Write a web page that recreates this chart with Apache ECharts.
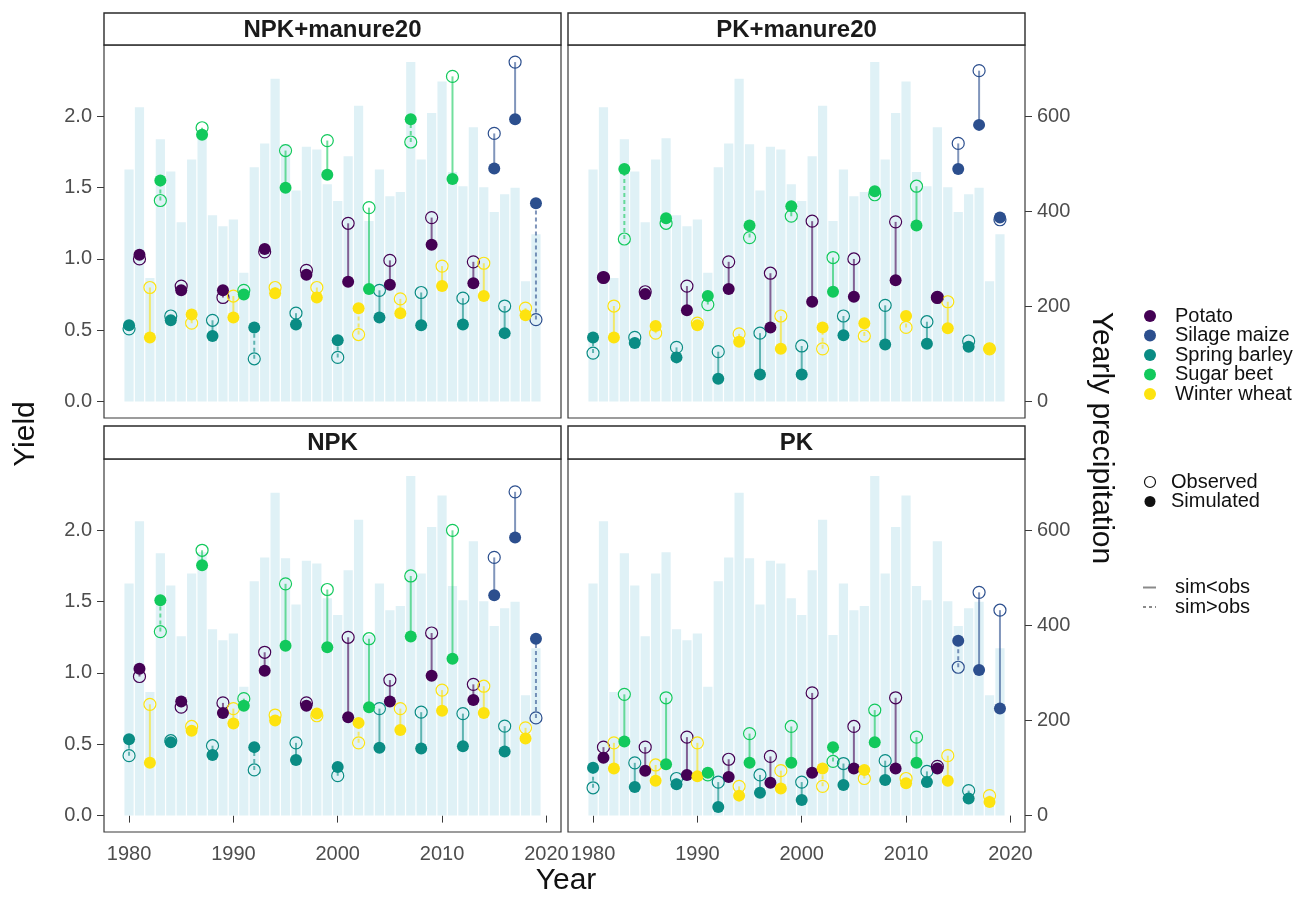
<!DOCTYPE html>
<html>
<head>
<meta charset="utf-8">
<script src="https://cdn.jsdelivr.net/npm/echarts@6/dist/echarts.min.js"></script>
<style>
html, body { margin: 0; padding: 0; background: #fff; }
#main { width: 1301px; height: 908px; }
</style>
</head>
<body>
<div id="main"></div>
<script>
// years, crop rotation and yearly precipitation (same for every panel)
var years = [1980, 1981, 1982, 1983, 1984, 1985, 1986, 1987, 1988, 1989,
  1990, 1991, 1992, 1993, 1994, 1995, 1996, 1997, 1998, 1999,
  2000, 2001, 2002, 2003, 2004, 2005, 2006, 2007, 2008, 2009,
  2010, 2011, 2012, 2013, 2014, 2015, 2016, 2017, 2018, 2019];
var crops = ['Spring barley', 'Potato', 'Winter wheat', 'Sugar beet',
  'Spring barley', 'Potato', 'Winter wheat', 'Sugar beet',
  'Spring barley', 'Potato', 'Winter wheat', 'Sugar beet',
  'Spring barley', 'Potato', 'Winter wheat', 'Sugar beet',
  'Spring barley', 'Potato', 'Winter wheat', 'Sugar beet',
  'Spring barley', 'Potato', 'Winter wheat', 'Sugar beet',
  'Spring barley', 'Potato', 'Winter wheat', 'Sugar beet',
  'Spring barley', 'Potato', 'Winter wheat', 'Sugar beet',
  'Spring barley', 'Potato', 'Winter wheat', 'Silage maize',
  'Spring barley', 'Silage maize', 'Winter wheat', 'Silage maize'];
var precip = [488, 619, 260, 552, 484, 377, 509, 554, 392, 369,
  383, 271, 493, 543, 679, 541, 444, 536, 530, 457,
  422, 516, 622, 380, 488, 432, 441, 714, 509, 607,
  673, 483, 453, 577, 451, 399, 436, 450, 253, 352];

// yields per treatment
var obsNpkManure = [0.51, 1.00, 0.80, 1.41, 0.60, 0.81, 0.55, 1.92, 0.57, 0.73,
  0.74, 0.78, 0.30, 1.05, 0.80, 1.76, 0.62, 0.92, 0.80, 1.83,
  0.31, 1.25, 0.47, 1.36, 0.78, 0.99, 0.72, 1.82, 0.765, 1.29,
  0.95, 2.28, 0.725, 0.98, 0.97, 1.88, 0.67, 2.38, 0.655, 0.575];
var simNpkManure = [0.535, 1.03, 0.45, 1.55, 0.57, 0.78, 0.61, 1.87, 0.46, 0.78,
  0.59, 0.75, 0.52, 1.07, 0.76, 1.50, 0.54, 0.89, 0.73, 1.59,
  0.43, 0.84, 0.655, 0.79, 0.59, 0.82, 0.62, 1.98, 0.535, 1.10,
  0.81, 1.56, 0.54, 0.83, 0.74, 1.635, 0.48, 1.98, 0.605, 1.39];
var obsPkManure = [0.34, 0.87, 0.67, 1.14, 0.45, 0.77, 0.48, 1.25, 0.38, 0.81,
  0.55, 0.68, 0.35, 0.98, 0.475, 1.15, 0.48, 0.90, 0.60, 1.30,
  0.39, 1.265, 0.37, 1.01, 0.60, 1.00, 0.46, 1.45, 0.675, 1.26,
  0.52, 1.51, 0.56, 0.73, 0.70, 1.81, 0.425, 2.32, 0.37, 1.275];
var simPkManure = [0.45, 0.87, 0.45, 1.63, 0.41, 0.755, 0.53, 1.285, 0.31, 0.64,
  0.535, 0.74, 0.16, 0.79, 0.42, 1.235, 0.19, 0.52, 0.37, 1.37,
  0.19, 0.70, 0.52, 0.77, 0.465, 0.735, 0.55, 1.475, 0.40, 0.85,
  0.60, 1.235, 0.405, 0.73, 0.515, 1.63, 0.385, 1.94, 0.37, 1.29];
var obsNpk = [0.42, 0.975, 0.78, 1.29, 0.525, 0.76, 0.625, 1.86, 0.49, 0.79,
  0.75, 0.82, 0.32, 1.145, 0.705, 1.625, 0.51, 0.79, 0.70, 1.585,
  0.28, 1.25, 0.51, 1.24, 0.75, 0.95, 0.75, 1.68, 0.725, 1.28,
  0.88, 2.00, 0.715, 0.92, 0.907, 1.81, 0.627, 2.27, 0.615, 0.685];
var simNpk = [0.535, 1.03, 0.37, 1.51, 0.515, 0.80, 0.595, 1.755, 0.425, 0.72,
  0.645, 0.77, 0.48, 1.015, 0.667, 1.19, 0.39, 0.77, 0.715, 1.18,
  0.34, 0.69, 0.65, 0.76, 0.475, 0.80, 0.60, 1.255, 0.47, 0.98,
  0.735, 1.10, 0.486, 0.81, 0.72, 1.545, 0.45, 1.95, 0.54, 1.24];
var obsPk = [0.195, 0.48, 0.51, 0.85, 0.37, 0.48, 0.355, 0.826, 0.26, 0.55,
  0.51, 0.285, 0.235, 0.395, 0.205, 0.575, 0.285, 0.415, 0.315, 0.625,
  0.235, 0.86, 0.205, 0.38, 0.365, 0.625, 0.26, 0.74, 0.385, 0.826,
  0.26, 0.55, 0.31, 0.345, 0.42, 1.04, 0.175, 1.565, 0.14, 1.44];
var simPk = [0.335, 0.405, 0.33, 0.52, 0.20, 0.315, 0.245, 0.36, 0.22, 0.285,
  0.275, 0.30, 0.06, 0.27, 0.14, 0.37, 0.16, 0.23, 0.19, 0.37,
  0.11, 0.30, 0.33, 0.48, 0.215, 0.33, 0.32, 0.515, 0.25, 0.33,
  0.227, 0.37, 0.235, 0.33, 0.245, 1.225, 0.12, 1.02, 0.095, 0.75];

var panelNames = ['NPK+manure20', 'PK+manure20', 'NPK', 'PK'];
var panelObs = [obsNpkManure, obsPkManure, obsNpk, obsPk];
var panelSim = [simNpkManure, simPkManure, simNpk, simPk];

var cropNames = ['Potato', 'Silage maize', 'Spring barley', 'Sugar beet', 'Winter wheat'];
var cropColors = ['#440154', '#2c4f8e', '#0a8c84', '#12c95c', '#fde310'];
var yieldTicks = [0, 0.5, 1, 1.5, 2];
var precipTicks = [0, 200, 400, 600];
var yearTicks = [1980, 1990, 2000, 2010, 2020];

var chart = echarts.init(document.getElementById('main'));

var boxes = [
  { left: 104, top: 45, width: 457, height: 373 },
  { left: 568, top: 45, width: 457, height: 373 },
  { left: 104, top: 459, width: 457, height: 373 },
  { left: 568, top: 459, width: 457, height: 373 }
];
var yMin = -0.115, yMax = 2.5, ratio = 300;
var tickColor = '#4d4d4d';
var font = 'Liberation Sans';

var grids = [], xAxes = [], yAxes = [], series = [], graphics = [];

function segment(params, api) {
  var yr = api.value(0), o = api.value(1), s = api.value(2), c = api.value(3);
  var a = api.coord([yr, o]), b = api.coord([yr, s]);
  return {
    type: 'line',
    shape: { x1: a[0], y1: a[1], x2: b[0], y2: b[1] },
    style: {
      stroke: cropColors[c], lineWidth: 2, opacity: 0.6,
      lineDash: s > o ? [4, 3] : null
    }
  };
}

boxes.forEach(function (b, g) {
  var isLeft = g % 2 === 0, isBottom = g >= 2;
  grids.push({ left: b.left, top: b.top, width: b.width, height: b.height,
    show: true, borderColor: '#3a3a3a', borderWidth: 1.2, backgroundColor: '#fff' });
  xAxes.push({
    type: 'value', gridIndex: g, min: 1977.6, max: 2021.4,
    axisLine: { show: false }, splitLine: { show: false },
    axisTick: { show: isBottom, length: 7, customValues: yearTicks, lineStyle: { color: '#3a3a3a' } },
    axisLabel: { show: isBottom, customValues: yearTicks, margin: 12, color: tickColor,
      fontSize: 20, fontFamily: font, formatter: function (v) { return String(v); } }
  });
  yAxes.push({
    type: 'value', gridIndex: g, min: yMin, max: yMax, position: 'left',
    axisLine: { show: false }, splitLine: { show: false },
    axisTick: { show: isLeft, length: 7, customValues: yieldTicks, lineStyle: { color: '#3a3a3a' } },
    axisLabel: { show: isLeft, customValues: yieldTicks, margin: 12, color: tickColor,
      fontSize: 20, fontFamily: font, formatter: function (v) { return v.toFixed(1); } }
  });
  yAxes.push({
    type: 'value', gridIndex: g, min: yMin * ratio, max: yMax * ratio, position: 'right',
    axisLine: { show: false }, splitLine: { show: false },
    axisTick: { show: !isLeft, length: 7, customValues: precipTicks, lineStyle: { color: '#3a3a3a' } },
    axisLabel: { show: !isLeft, customValues: precipTicks, margin: 12, color: tickColor,
      fontSize: 20, fontFamily: font, formatter: function (v) { return String(v); } }
  });

  series.push({
    type: 'bar', xAxisIndex: g, yAxisIndex: 2 * g + 1, barWidth: 9.2, silent: true, z: 1,
    itemStyle: { color: '#dff1f6' },
    data: years.map(function (y, i) { return [y, precip[i]]; })
  });
  series.push({
    type: 'custom', xAxisIndex: g, yAxisIndex: 2 * g, z: 2, silent: true,
    renderItem: segment, encode: { x: 0, y: [1, 2] },
    data: years.map(function (y, i) {
      return [y, panelObs[g][i], panelSim[g][i], cropNames.indexOf(crops[i])];
    })
  });
  series.push({
    type: 'scatter', xAxisIndex: g, yAxisIndex: 2 * g, z: 3, silent: true,
    symbol: 'circle', symbolSize: 12,
    data: years.map(function (y, i) {
      return { value: [y, panelObs[g][i]], itemStyle: { color: 'rgba(255,255,255,0)', opacity: 1,
        borderColor: cropColors[cropNames.indexOf(crops[i])], borderWidth: 1.2 } };
    })
  });
  series.push({
    type: 'scatter', xAxisIndex: g, yAxisIndex: 2 * g, z: 4, silent: true,
    symbol: 'circle', symbolSize: 12,
    data: years.map(function (y, i) {
      return { value: [y, panelSim[g][i]], itemStyle: { opacity: 1,
        color: cropColors[cropNames.indexOf(crops[i])] } };
    })
  });

  // facet strip
  var stripTop = isBottom ? 426 : 13;
  graphics.push({ type: 'rect', shape: { x: b.left, y: stripTop, width: b.width, height: b.top - stripTop },
    style: { fill: '#fff', stroke: '#2a2a2a', lineWidth: 1.4 } });
  graphics.push({ type: 'text', x: b.left + b.width / 2, y: stripTop + (b.top - stripTop) / 2 + 1,
    style: { text: panelNames[g], fill: '#1a1a1a', font: 'bold 24px ' + font,
      textAlign: 'center', textVerticalAlign: 'middle' } });
});

// axis titles
graphics.push({ type: 'text', x: 26, y: 434, rotation: Math.PI / 2,
  style: { text: 'Yield', fill: '#111', font: '30px ' + font, textAlign: 'center', textVerticalAlign: 'middle' } });
graphics.push({ type: 'text', x: 566, y: 881,
  style: { text: 'Year', fill: '#111', font: '30px ' + font, textAlign: 'center', textVerticalAlign: 'middle' } });
graphics.push({ type: 'text', x: 1101, y: 438, rotation: -Math.PI / 2,
  style: { text: 'Yearly precipitation', fill: '#111', font: '30px ' + font, textAlign: 'center', textVerticalAlign: 'middle' } });

// legends
var legendY = [316, 335.5, 355, 374.5, 394];
cropNames.forEach(function (c, i) {
  graphics.push({ type: 'circle', shape: { cx: 1150, cy: legendY[i], r: 6 }, style: { fill: cropColors[i] } });
  graphics.push({ type: 'text', x: 1175, y: legendY[i],
    style: { text: c, fill: '#111', font: '20px ' + font, textVerticalAlign: 'middle' } });
});
graphics.push({ type: 'circle', shape: { cx: 1150, cy: 482, r: 5.5 }, style: { fill: 'none', stroke: '#111', lineWidth: 1.2 } });
graphics.push({ type: 'text', x: 1171, y: 482, style: { text: 'Observed', fill: '#111', font: '20px ' + font, textVerticalAlign: 'middle' } });
graphics.push({ type: 'circle', shape: { cx: 1150, cy: 501.5, r: 5.5 }, style: { fill: '#111' } });
graphics.push({ type: 'text', x: 1171, y: 501.5, style: { text: 'Simulated', fill: '#111', font: '20px ' + font, textVerticalAlign: 'middle' } });
graphics.push({ type: 'line', shape: { x1: 1143, y1: 587.5, x2: 1156, y2: 587.5 }, style: { stroke: '#8a8a8a', lineWidth: 2 } });
graphics.push({ type: 'text', x: 1175, y: 587.5, style: { text: 'sim<obs', fill: '#111', font: '20px ' + font, textVerticalAlign: 'middle' } });
graphics.push({ type: 'line', shape: { x1: 1143, y1: 607, x2: 1156, y2: 607 }, style: { stroke: '#8a8a8a', lineWidth: 2, lineDash: [3, 3] } });
graphics.push({ type: 'text', x: 1175, y: 607, style: { text: 'sim>obs', fill: '#111', font: '20px ' + font, textVerticalAlign: 'middle' } });

chart.setOption({
  animation: false,
  backgroundColor: '#fff',
  grid: grids,
  xAxis: xAxes,
  yAxis: yAxes,
  series: series,
  graphic: graphics
});
</script>
</body>
</html>
